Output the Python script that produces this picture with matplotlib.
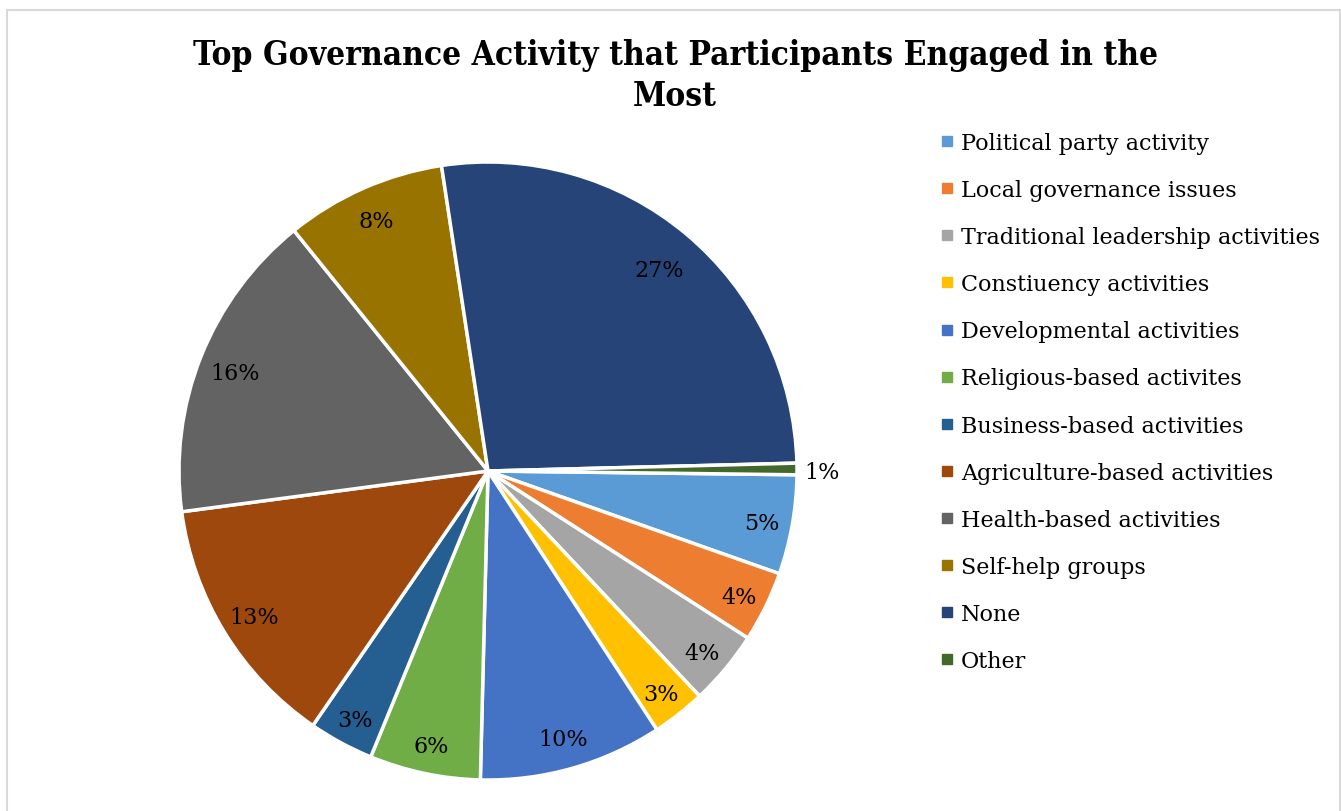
import matplotlib
matplotlib.use('Agg')
import matplotlib.pyplot as plt
from matplotlib.patches import Rectangle
from matplotlib.lines import Line2D
import numpy as np

activities = ['Political party activity', 'Local governance issues',
              'Traditional leadership activities', 'Constiuency activities',
              'Developmental activities', 'Religious-based activites',
              'Business-based activities', 'Agriculture-based activities',
              'Health-based activities', 'Self-help groups', 'None', 'Other']
shares = [5.2, 3.7, 3.9, 2.8, 9.6, 5.8, 3.4, 13.3, 16.3, 8.4, 27.0, 0.6]
colours = ['#5B9BD5', '#ED7D31', '#A5A5A5', '#FFC000', '#4472C4', '#70AD47',
           '#255E91', '#9E480E', '#636363', '#997300', '#264478', '#43682B']

W, H = 1341, 812
fig = plt.figure(figsize=(W/100, H/100), dpi=100)

# light grey chart frame
fig.patches.append(Rectangle((7/W, -0.1), (1333)/W, 1.1 - 11/H, transform=fig.transFigure,
                             fill=False, edgecolor='#d9d9d9', linewidth=1.5))

cx, cy, r = 488, 472, 309
ax = fig.add_axes([(cx-r)/W, (H-cy-r)/H, 2*r/W, 2*r/H])
wedges, _ = ax.pie(shares, colors=colours, startangle=-0.7, counterclock=False,
                   wedgeprops=dict(edgecolor='white', linewidth=2.5), radius=1)
ax.set_xlim(-1, 1)
ax.set_ylim(-1, 1)
ax.set_aspect('equal')
ax.axis('off')

total = sum(shares)
for w, v in zip(wedges, shares):
    ang = np.deg2rad((w.theta1 + w.theta2) / 2)
    pct = '%.0f%%' % (v / total * 100)
    if v < 1:
        ax.text(1.025*np.cos(ang), 1.025*np.sin(ang) - 0.01, pct, ha='left', va='center',
                fontsize=16, family='DejaVu Serif', color='black')
    else:
        # bigger slices get their label pulled a little further in
        rl = 0.91 - 0.0018*v
        ax.text(rl*np.cos(ang), rl*np.sin(ang) - 0.01, pct, ha='center', va='center',
                fontsize=16, family='DejaVu Serif', color='black')

title_font = dict(fontsize=24, fontweight='bold', family='DejaVu Serif', fontstretch='condensed')
fig.text(675/W, 1 - 55/H, 'Top Governance Activity that Participants Engaged in the',
         ha='center', va='center', **title_font)
fig.text(675/W, 1 - 97/H, 'Most', ha='center', va='center', **title_font)

handles = [Line2D([], [], marker='s', linestyle='none', markersize=7,
                  markerfacecolor=c, markeredgecolor=c) for c in colours]
fig.legend(handles, activities, loc='upper left', bbox_to_anchor=(930/W, 1 - 124/H),
           frameon=False, prop=dict(family='DejaVu Serif', size=16),
           handlelength=0.7, handletextpad=0.3, labelspacing=1.13, borderaxespad=0)

fig.savefig('out.png', dpi=100, facecolor='white')
